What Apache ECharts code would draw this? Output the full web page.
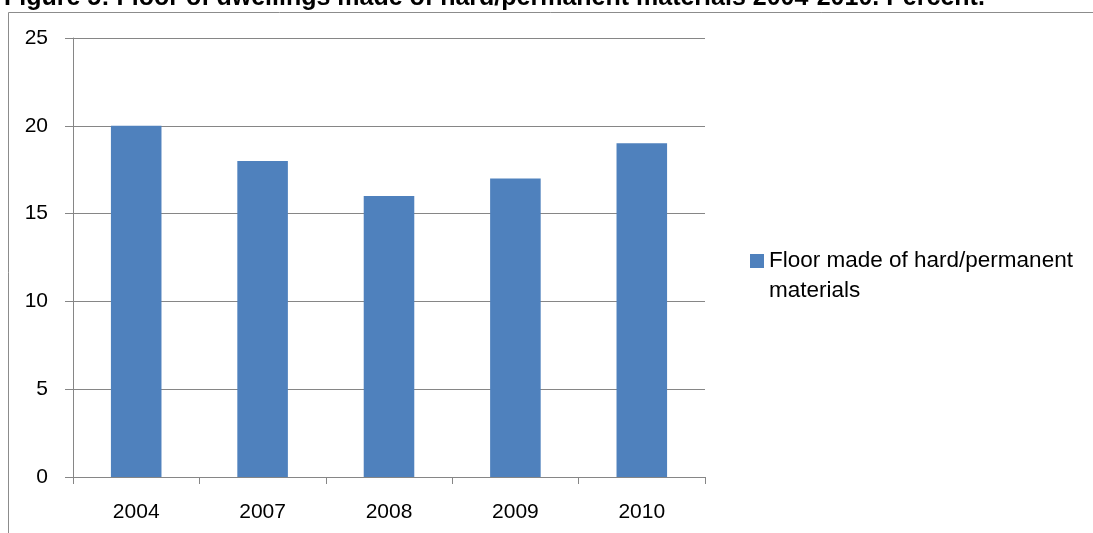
<!DOCTYPE html>
<html><head><meta charset="utf-8">
<script src="https://cdn.jsdelivr.net/npm/echarts@6/dist/echarts.min.js"></script>
<style>html,body{margin:0;padding:0;background:#fff}#c{width:1093px;height:533px}</style>
</head><body><div id="c"></div>
<script>
var titleText = 'Figure 5: Floor of dwellings made of hard/permanent materials 2004-2010. Percent.';
var categories = ['2004', '2007', '2008', '2009', '2010'];
var seriesName = 'Floor made of hard/permanent\nmaterials';
var values = [20, 18, 16, 17, 19];
var yTicks = [0, 5, 10, 15, 20, 25];

var chart = echarts.init(document.getElementById('c'), null, {renderer: 'canvas'});
chart.setOption({
  animation: false,
  backgroundColor: '#fff',
  title: {
    text: titleText, left: -1, top: -19,
    textStyle: {fontFamily: 'Liberation Sans', fontWeight: 'bold', fontSize: 25, color: '#000'}
  },
  graphic: [
    {type: 'line', shape: {x1: 8.5, y1: 12.5, x2: 1093, y2: 12.5}, style: {stroke: '#8c8c8c', lineWidth: 1}, z: 10},
    {type: 'line', shape: {x1: 8.5, y1: 12.5, x2: 8.5, y2: 533}, style: {stroke: '#8c8c8c', lineWidth: 1}, z: 10}
  ],
  legend: {
    data: [{name: seriesName, icon: 'rect'}], orient: 'vertical', left: 745, top: 211,
    itemWidth: 14, itemHeight: 14, itemGap: 8,
    formatter: function (name) { return '\n' + name; },
    textStyle: {fontFamily: 'Liberation Sans', fontSize: 22.5, color: '#000', lineHeight: 30}
  },
  grid: {left: 73, right: 388, top: 38, bottom: 56, containLabel: false},
  xAxis: {
    type: 'category', data: categories,
    axisLine: {lineStyle: {color: '#868686', width: 1}},
    axisTick: {show: true, length: 7, lineStyle: {color: '#868686'}},
    axisLabel: {fontFamily: 'Liberation Sans', fontSize: 21, color: '#000', margin: 25}
  },
  yAxis: {
    type: 'value', min: 0, max: 25, interval: 5,
    axisLine: {show: true, lineStyle: {color: '#868686', width: 1}},
    axisTick: {show: true, length: 8, lineStyle: {color: '#868686'}},
    splitLine: {lineStyle: {color: '#868686', width: 1}},
    axisLabel: {fontFamily: 'Liberation Sans', fontSize: 21, color: '#000', margin: 25,
      formatter: function (v) { return yTicks.indexOf(v) >= 0 ? String(v) : ''; }}
  },
  series: [{
    name: seriesName, type: 'bar', data: values, barWidth: '40%',
    itemStyle: {color: '#4f81bd'}
  }]
});
</script></body></html>
